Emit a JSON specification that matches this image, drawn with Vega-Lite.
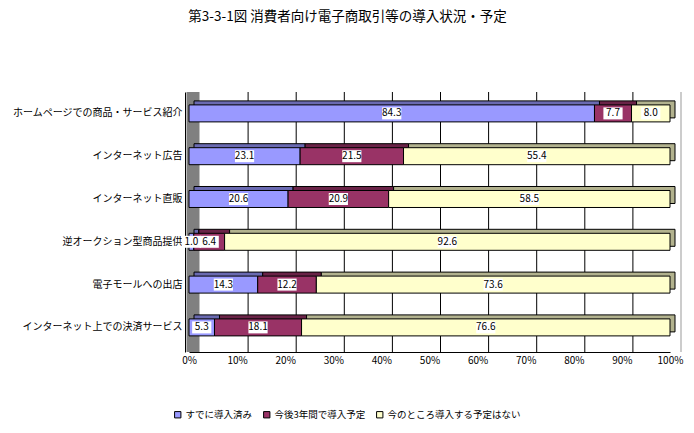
{
  "$schema": "https://vega.github.io/schema/vega-lite/v6.json",
  "width": 481,
  "height": 260,
  "autosize": "none",
  "padding": {"left": 189, "top": 92, "right": 24, "bottom": 81},
  "background": "white",
  "config": {"font": "Noto Sans CJK JP", "view": {"stroke": null}},
  "title": {"text": "第3-3-1図  消費者向け電子商取引等の導入状況・予定", "fontSize": 13.5, "fontWeight": "normal", "anchor": "middle", "dx": -82, "offset": 62, "color": "black"},
  "layer": [
    {
      "data": {"values": [{"v": 0.1}, {"v": 0.2}, {"v": 0.3}, {"v": 0.4}, {"v": 0.5}, {"v": 0.6}, {"v": 0.7}, {"v": 0.8}, {"v": 0.9}, {"v": 1.0}]},
      "mark": {"type": "rule", "strokeWidth": 1, "xOffset": 11, "y2Offset": -11},
      "encoding": {
        "x": {"field": "v", "type": "quantitative", "scale": {"domain": [0, 1]}, "axis": {"title": null, "format": ".0%", "values": [0, 0.1, 0.2, 0.3, 0.4, 0.5, 0.6, 0.7, 0.8, 0.9, 1], "grid": false, "ticks": false, "labelFlush": false, "labelPadding": 3, "labelFontSize": 10, "labelColor": "black", "domainColor": "black"}},
        "color": {"condition": {"test": "datum.v >= 1", "value": "#999999"}, "value": "black"}
      }
    },
    {
      "data": {"values": [{"v": 0}]},
      "mark": {"type": "rule", "strokeWidth": 13, "color": "#808080", "xOffset": 4},
      "encoding": {
        "x": {"field": "v", "type": "quantitative", "axis": {"title": null, "format": ".0%", "values": [0, 0.1, 0.2, 0.3, 0.4, 0.5, 0.6, 0.7, 0.8, 0.9, 1], "grid": false, "ticks": false, "labelFlush": false, "labelPadding": 3, "labelFontSize": 10, "labelColor": "black", "domainColor": "black"}}
      }
    },
    {
      "data": {"values": [
        {"item": "ホームページでの商品・サービス紹介", "series": "すでに導入済み", "value": 84.3},
        {"item": "ホームページでの商品・サービス紹介", "series": "今後3年間で導入予定", "value": 7.7},
        {"item": "ホームページでの商品・サービス紹介", "series": "今のところ導入する予定はない", "value": 8.0},
        {"item": "インターネット広告", "series": "すでに導入済み", "value": 23.1},
        {"item": "インターネット広告", "series": "今後3年間で導入予定", "value": 21.5},
        {"item": "インターネット広告", "series": "今のところ導入する予定はない", "value": 55.4},
        {"item": "インターネット直販", "series": "すでに導入済み", "value": 20.6},
        {"item": "インターネット直販", "series": "今後3年間で導入予定", "value": 20.9},
        {"item": "インターネット直販", "series": "今のところ導入する予定はない", "value": 58.5},
        {"item": "逆オークション型商品提供", "series": "すでに導入済み", "value": 1.0},
        {"item": "逆オークション型商品提供", "series": "今後3年間で導入予定", "value": 6.4},
        {"item": "逆オークション型商品提供", "series": "今のところ導入する予定はない", "value": 92.6},
        {"item": "電子モールへの出店", "series": "すでに導入済み", "value": 14.3},
        {"item": "電子モールへの出店", "series": "今後3年間で導入予定", "value": 12.2},
        {"item": "電子モールへの出店", "series": "今のところ導入する予定はない", "value": 73.6},
        {"item": "インターネット上での決済サービス", "series": "すでに導入済み", "value": 5.3},
        {"item": "インターネット上での決済サービス", "series": "今後3年間で導入予定", "value": 18.1},
        {"item": "インターネット上での決済サービス", "series": "今のところ導入する予定はない", "value": 76.6}
      ]},
      "transform": [
        {"calculate": "indexof(['すでに導入済み','今後3年間で導入予定','今のところ導入する予定はない'], datum.series)", "as": "ord"},
        {"stack": "value", "groupby": ["item"], "sort": [{"field": "ord", "order": "ascending"}], "offset": "normalize", "as": ["x0", "x1"]},
        {"calculate": "(datum.x0 + datum.x1) / 2", "as": "mid"}
      ],
      "encoding": {
        "y": {"field": "item", "type": "nominal", "sort": null, "scale": {"paddingInner": 0, "paddingOuter": 0.0374, "align": 0}, "axis": {"title": null, "offset": 4, "ticks": false, "labelPadding": 3, "labelFontSize": 10, "labelColor": "black", "domainColor": "black", "labelLimit": 300}}
      },
      "layer": [
        {
          "mark": {"type": "bar", "size": 17, "xOffset": 5, "x2Offset": 5, "yOffset": -4, "y2Offset": -4, "stroke": "black", "strokeWidth": 1},
          "encoding": {
            "x": {"field": "x0", "type": "quantitative", "axis": {"title": null, "format": ".0%", "values": [0, 0.1, 0.2, 0.3, 0.4, 0.5, 0.6, 0.7, 0.8, 0.9, 1], "grid": false, "ticks": false, "labelFlush": false, "labelPadding": 3, "labelFontSize": 10, "labelColor": "black", "domainColor": "black"}},
            "x2": {"field": "x1"},
            "color": {"field": "series", "type": "nominal", "scale": {"domain": ["すでに導入済み", "今後3年間で導入予定", "今のところ導入する予定はない"], "range": ["#9999FF", "#993366", "#FFFFCC"]},
              "legend": {"orient": "none", "legendX": -16, "legendY": 318, "direction": "horizontal", "gridAlign": "none", "title": null, "symbolType": "square", "symbolSize": 40, "symbolStrokeColor": "black", "symbolStrokeWidth": 1, "labelFontSize": 9.5, "labelColor": "black", "columnPadding": 8, "labelOffset": 3}}
          }
        },
        {
          "mark": {"type": "bar", "size": 17, "xOffset": 5, "x2Offset": 5, "yOffset": -4, "y2Offset": -4, "fill": "black", "fillOpacity": 0.3, "strokeWidth": 0},
          "encoding": {
            "x": {"field": "x0", "type": "quantitative", "axis": {"title": null, "format": ".0%", "values": [0, 0.1, 0.2, 0.3, 0.4, 0.5, 0.6, 0.7, 0.8, 0.9, 1], "grid": false, "ticks": false, "labelFlush": false, "labelPadding": 3, "labelFontSize": 10, "labelColor": "black", "domainColor": "black"}},
            "x2": {"field": "x1"}
          }
        },
        {
          "mark": {"type": "bar", "size": 17, "stroke": "black", "strokeWidth": 1},
          "encoding": {
            "x": {"field": "x0", "type": "quantitative", "axis": {"title": null, "format": ".0%", "values": [0, 0.1, 0.2, 0.3, 0.4, 0.5, 0.6, 0.7, 0.8, 0.9, 1], "grid": false, "ticks": false, "labelFlush": false, "labelPadding": 3, "labelFontSize": 10, "labelColor": "black", "domainColor": "black"}},
            "x2": {"field": "x1"},
            "color": {"field": "series", "type": "nominal", "scale": {"domain": ["すでに導入済み", "今後3年間で導入予定", "今のところ導入する予定はない"], "range": ["#9999FF", "#993366", "#FFFFCC"]},
              "legend": {"orient": "none", "legendX": -16, "legendY": 318, "direction": "horizontal", "gridAlign": "none", "title": null, "symbolType": "square", "symbolSize": 40, "symbolStrokeColor": "black", "symbolStrokeWidth": 1, "labelFontSize": 9.5, "labelColor": "black", "columnPadding": 8, "labelOffset": 3}}
          }
        },
        {
          "mark": {"type": "point", "shape": "M-1.6,-1H1.6V1H-1.6Z", "filled": true, "fill": "white", "opacity": 1, "size": 144, "strokeWidth": 0},
          "encoding": {
            "x": {"field": "mid", "type": "quantitative", "axis": {"title": null, "format": ".0%", "values": [0, 0.1, 0.2, 0.3, 0.4, 0.5, 0.6, 0.7, 0.8, 0.9, 1], "grid": false, "ticks": false, "labelFlush": false, "labelPadding": 3, "labelFontSize": 10, "labelColor": "black", "domainColor": "black"}}
          }
        },
        {
          "mark": {"type": "text", "fontSize": 10, "color": "black"},
          "encoding": {
            "x": {"field": "mid", "type": "quantitative", "axis": {"title": null, "format": ".0%", "values": [0, 0.1, 0.2, 0.3, 0.4, 0.5, 0.6, 0.7, 0.8, 0.9, 1], "grid": false, "ticks": false, "labelFlush": false, "labelPadding": 3, "labelFontSize": 10, "labelColor": "black", "domainColor": "black"}},
            "text": {"field": "value", "type": "quantitative", "format": ".1f"}
          }
        }
      ]
    }
  ]
}
